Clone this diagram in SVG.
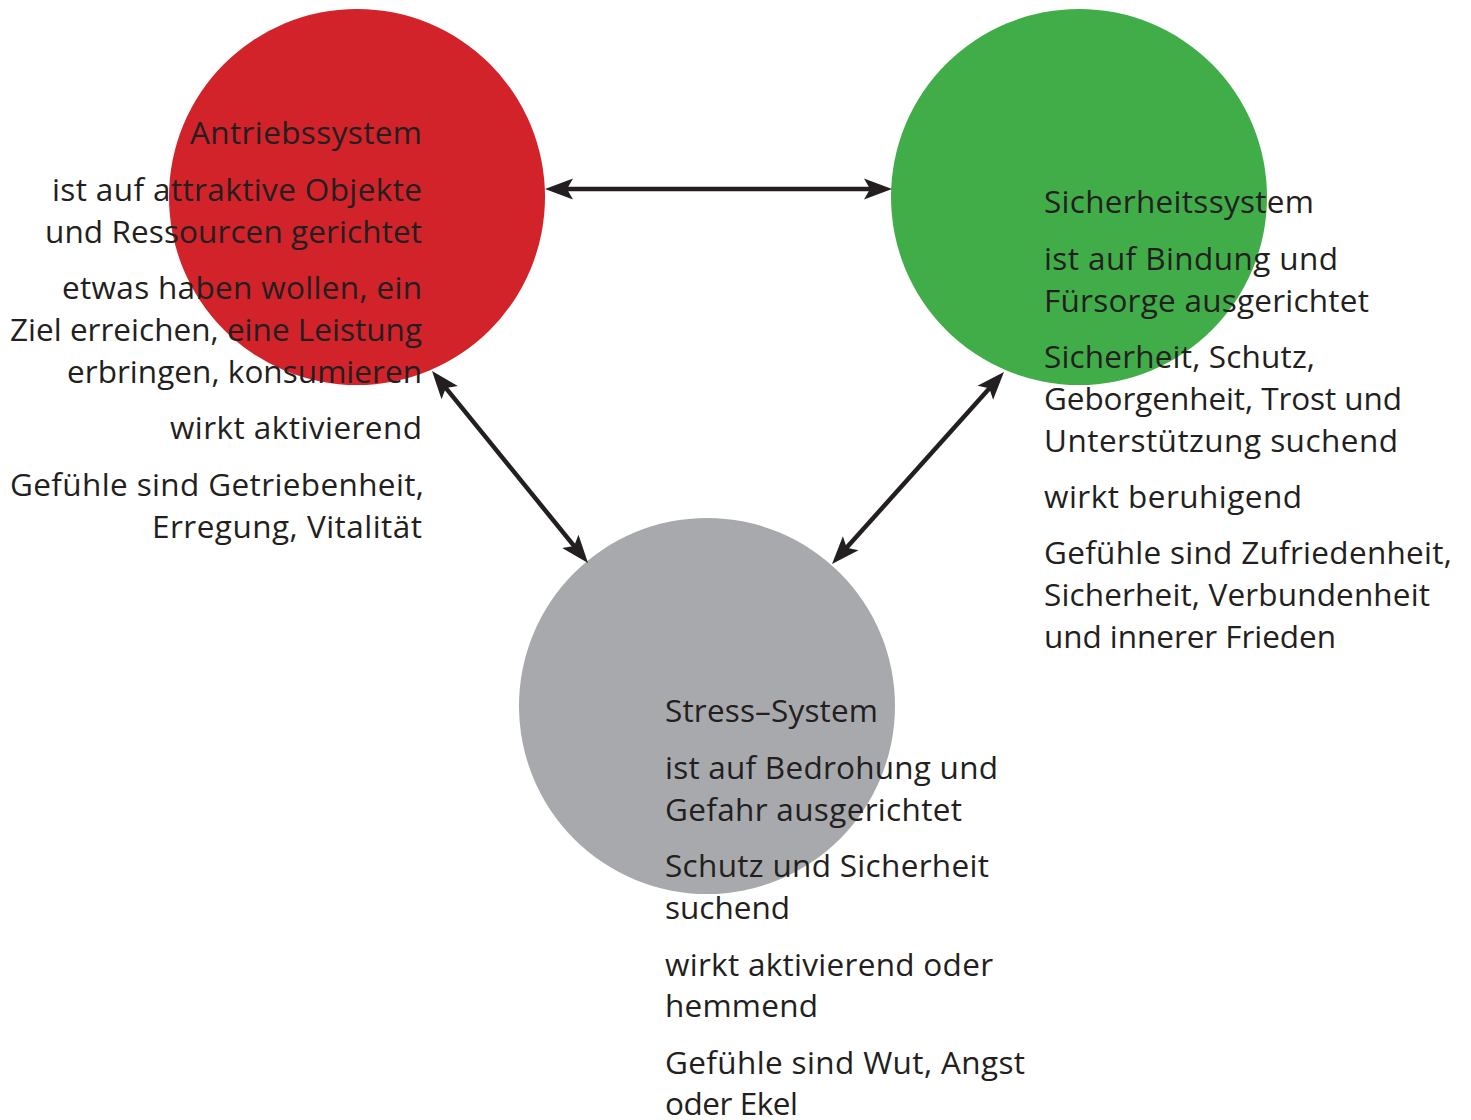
<svg xmlns="http://www.w3.org/2000/svg" width="1471" height="1120" viewBox="0 0 1471 1120">
<style>
  text { font-family: "Open Sans", "Noto Sans", "DejaVu Sans", sans-serif; font-size: 31.5px; fill: #231f20; }
  .r { text-anchor: end; }
  .conn { stroke: #231f20; stroke-width: 4.5; fill: none; marker-start: url(#ah); marker-end: url(#ah); }
</style>
<defs>
  <marker id="ah" markerUnits="userSpaceOnUse" viewBox="-30 -12 32 24" markerWidth="32" markerHeight="24" refX="-16" refY="0" orient="auto-start-reverse">
    <path d="M0,0 L-28,-10.5 L-22,0 L-28,10.5 Z" fill="#231f20"/>
  </marker>
</defs>
<rect width="1471" height="1120" fill="#ffffff"/>
<g id="antrieb-circle"><circle cx="357" cy="197" r="188" fill="#d2232a"/></g>
<g id="sicherheit-circle"><circle cx="1079" cy="197" r="188" fill="#41ad49"/></g>
<g id="stress-circle"><circle cx="707" cy="706" r="188" fill="#a7a9ac"/></g>
<g id="connectors">
  <line class="conn" x1="561" y1="189" x2="876" y2="189"/>
  <line class="conn" x1="442.1" y1="383.4" x2="577.9" y2="550.6"/>
  <line class="conn" x1="993.3" y1="383.9" x2="842.7" y2="552.1"/>
</g>
<g id="antriebssystem">
  <text class="r" x="422" y="144" textLength="232">Antriebssystem</text>
  <text class="r" x="422" y="201" textLength="370">ist auf attraktive Objekte</text>
  <text class="r" x="422" y="243" textLength="377">und Ressourcen gerichtet</text>
  <text class="r" x="422" y="299" textLength="360">etwas haben wollen, ein</text>
  <text class="r" x="422" y="341" textLength="412">Ziel erreichen, eine Leistung</text>
  <text class="r" x="422" y="383" textLength="355">erbringen, konsumieren</text>
  <text class="r" x="422" y="439" textLength="252">wirkt aktivierend</text>
  <text class="r" x="424" y="496" textLength="414">Gefühle sind Getriebenheit,</text>
  <text class="r" x="422" y="538" textLength="270">Erregung, Vitalität</text>
</g>
<g id="sicherheitssystem">
  <text x="1044" y="213" textLength="270">Sicherheitssystem</text>
  <text x="1044" y="270" textLength="294">ist auf Bindung und</text>
  <text x="1044" y="312" textLength="325">Fürsorge ausgerichtet</text>
  <text x="1044" y="368" textLength="271">Sicherheit, Schutz,</text>
  <text x="1044" y="410" textLength="358">Geborgenheit, Trost und</text>
  <text x="1044" y="452" textLength="354">Unterstützung suchend</text>
  <text x="1044" y="508" textLength="258">wirkt beruhigend</text>
  <text x="1044" y="564" textLength="408">Gefühle sind Zufriedenheit,</text>
  <text x="1044" y="606" textLength="386">Sicherheit, Verbundenheit</text>
  <text x="1044" y="648" textLength="292">und innerer Frieden</text>
</g>
<g id="stress-system">
  <text x="665" y="722" textLength="213">Stress–System</text>
  <text x="665" y="779" textLength="333">ist auf Bedrohung und</text>
  <text x="665" y="821" textLength="297">Gefahr ausgerichtet</text>
  <text x="665" y="877" textLength="324">Schutz und Sicherheit</text>
  <text x="665" y="919" textLength="125">suchend</text>
  <text x="665" y="976" textLength="328">wirkt aktivierend oder</text>
  <text x="665" y="1017" textLength="153">hemmend</text>
  <text x="665" y="1074" textLength="360">Gefühle sind Wut, Angst</text>
  <text x="665" y="1115" textLength="133">oder Ekel</text>
</g>
</svg>
